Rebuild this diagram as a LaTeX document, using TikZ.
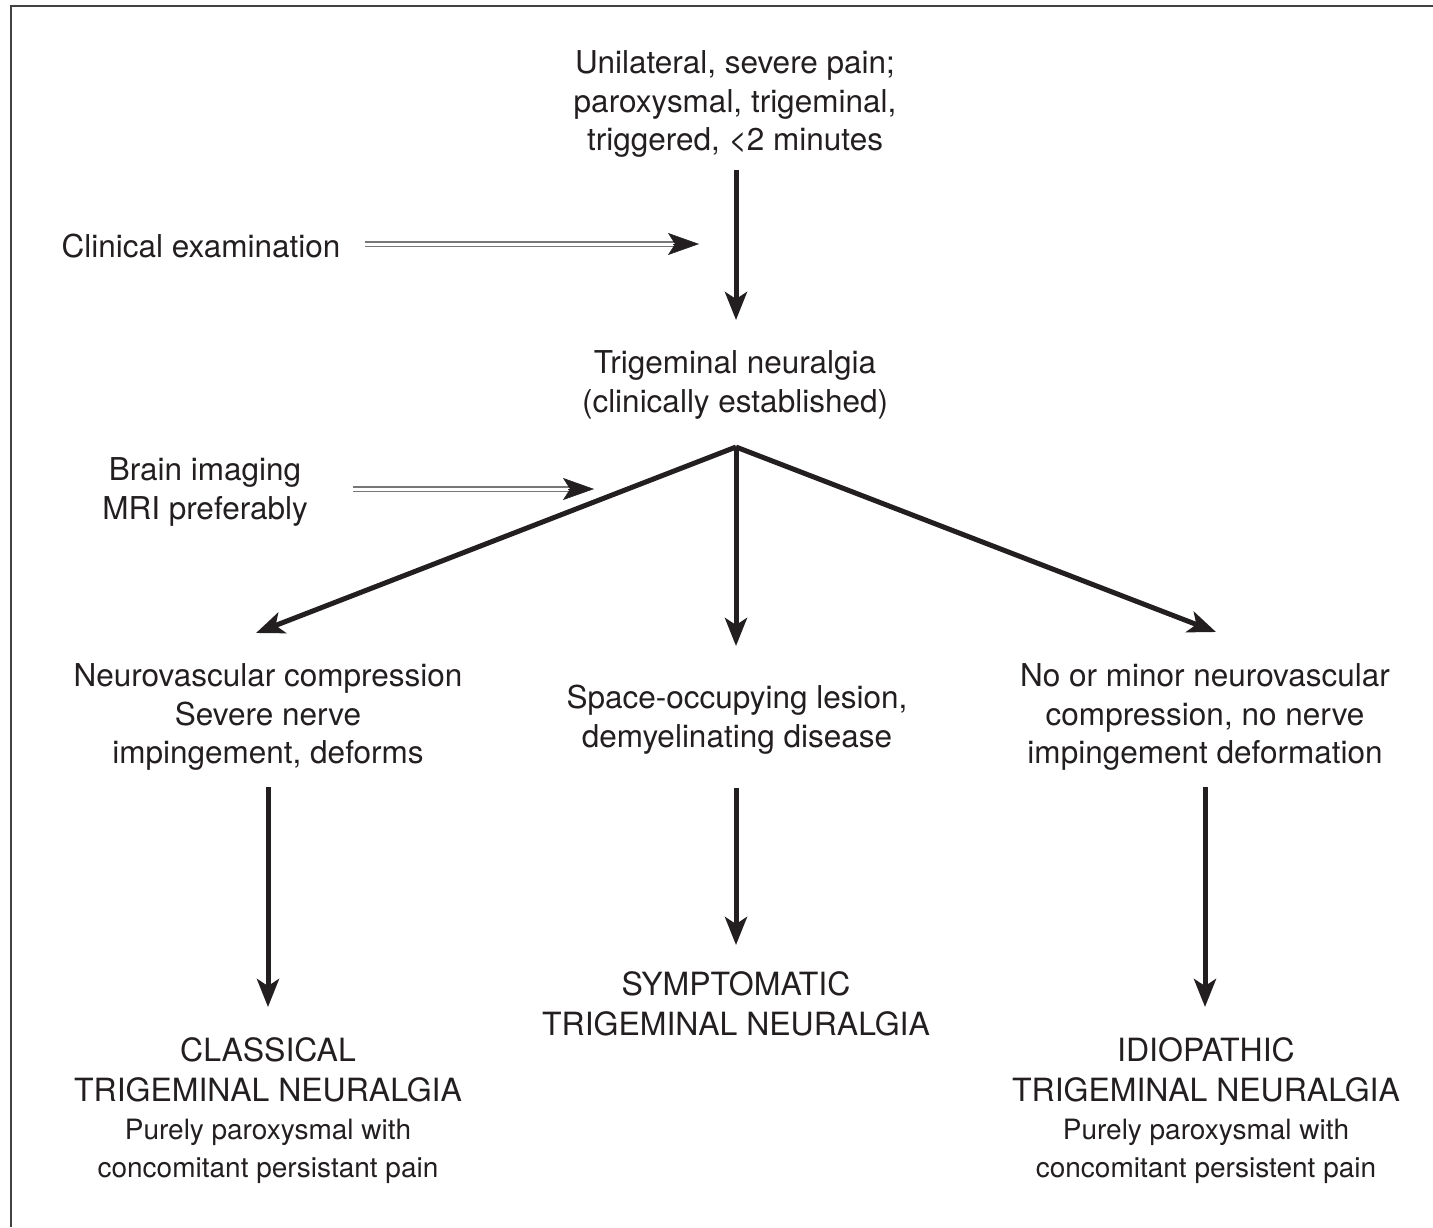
\documentclass[tikz,border=0pt]{standalone}
\usepackage{fontspec}
\setmainfont{TeX Gyre Heros}
\usetikzlibrary{arrows.meta}
\definecolor{ink}{HTML}{231F20}
\definecolor{dline}{HTML}{777777}
\newcommand\mainsz{\fontsize{31.5}{38.5}\selectfont}
\newcommand\capsz{\fontsize{32}{40}\selectfont}
\newcommand\smallsz{\fontsize{28}{38}\selectfont}
\tikzset{
  txt/.style={inner sep=0pt, outer sep=0pt, align=center, text=ink, font=\mainsz},
  capt/.style={txt, font=\capsz},
  subt/.style={txt, font=\smallsz},
  mainarrow/.style={draw=ink, line width=5pt, -{Stealth[length=28pt,width=22pt,inset=7pt]}},
  dblline/.style={draw=dline, line width=1.6pt, double=white, double distance=3pt},
  dblhead/.style={draw=ink, line width=0.5pt, -{Stealth[length=31pt,width=22pt,inset=7pt]}},
  frameline/.style={draw=ink!85, line width=2pt}
}
\begin{document}
\begin{tikzpicture}[x=1pt,y=-1pt]
\useasboundingbox (0,0) rectangle (1433,1227);
% frame
\coordinate (fTL) at (11,5.5);
\coordinate (fTR) at (1433,5.5);
\coordinate (fBL) at (11,1227);
\draw[frameline] (fBL) -- (fTL) -- (fTR);

% nodes
\node[txt, anchor=north] (top) at (735,51) {Unilateral, severe pain;\\paroxysmal, trigeminal,\\triggered, {<}2 minutes};
\node[txt] (clin) at (201,246) {Clinical examination};
\node[txt, anchor=north] (tn) at (735,351) {Trigeminal neuralgia\\(clinically established)};
\node[txt, anchor=north] (brain) at (205,458) {Brain imaging\\MRI preferably};
\node[txt, anchor=north] (left) at (268,664) {Neurovascular compression\\Severe nerve\\impingement, deforms};
\node[txt, anchor=north] (center) at (737,685) {Space-occupying lesion,\\demyelinating disease};
\node[txt, anchor=north] (right) at (1205,664) {No or minor neurovascular\\compression, no nerve\\impingement deformation};
\node[capt, anchor=north] (classical) at (268,1038) {CLASSICAL\\TRIGEMINAL NEURALGIA};
\node[subt, anchor=north] (classub) at (268,1119) {Purely paroxysmal with\\concomitant persistant pain};
\node[capt, anchor=north] (sympt) at (736,972) {SYMPTOMATIC\\TRIGEMINAL NEURALGIA};
\node[capt, anchor=north] (idio) at (1206,1038) {IDIOPATHIC\\TRIGEMINAL NEURALGIA};
\node[subt, anchor=north] (idiosub) at (1206,1119) {Purely paroxysmal with\\concomitant persistent pain};

% junction and free ends
\coordinate (split) at (736,447);
\coordinate (ltip) at (256,633);
\coordinate (rtip) at (1216,632);
\coordinate (ctip) at (699,244);
\coordinate (btip) at (594,489);

% main arrows
\draw[mainarrow, shorten <=12pt, shorten >=31pt] (top.south -| split) -- (tn.north -| split);
\draw[mainarrow] (split) -- (ltip);
\draw[mainarrow, shorten >=39pt] (split) -- (center.north -| split);
\draw[mainarrow] (split) -- (rtip);
\draw[mainarrow, shorten <=16pt, shorten >=31pt] (left.south) -- (classical.north);
\draw[mainarrow, shorten <=34pt, shorten >=27pt] (center.south -| split) -- (sympt.north -| split);
\draw[mainarrow, shorten <=16pt, shorten >=31pt] (right.south) -- (idio.north -| right.south);

% double arrows
\draw[dblline, shorten <=25pt] (clin.east |- ctip) -- ([xshift=-22pt]ctip);
\draw[dblhead] ([xshift=-26pt]ctip) -- (ctip);
\draw[dblline, shorten <=45pt] (brain.east |- btip) -- ([xshift=-22pt]btip);
\draw[dblhead] ([xshift=-26pt]btip) -- (btip);
\end{tikzpicture}
\end{document}
